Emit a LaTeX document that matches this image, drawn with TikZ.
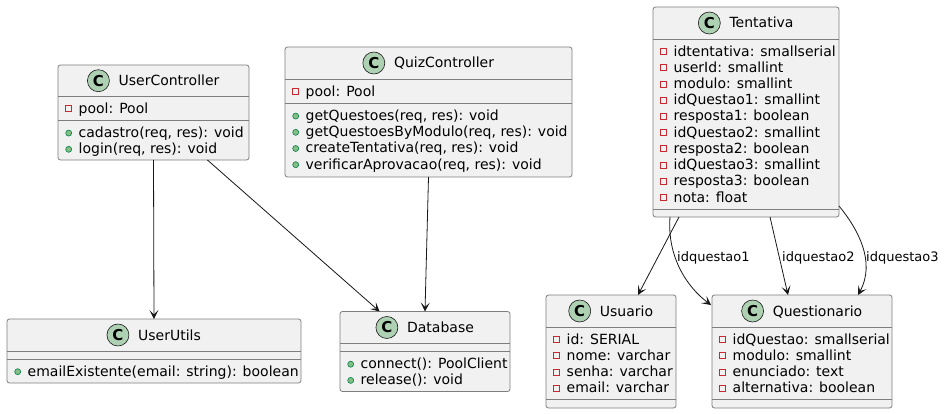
\documentclass[tikz,border=0pt]{standalone}
\usepackage{fontspec}
\setmainfont{DejaVu Sans}
\usetikzlibrary{arrows.meta,calc}
\definecolor{boxfill}{HTML}{F1F1F1}
\definecolor{umlborder}{HTML}{7E7E7E}
\definecolor{umlline}{HTML}{181818}
\definecolor{badge}{HTML}{ADD1B2}
\definecolor{privred}{HTML}{C82930}
\definecolor{pubfill}{HTML}{84BE84}
\definecolor{pubdraw}{HTML}{038048}
\tikzset{
 cls/.style={draw=umlborder, fill=boxfill, line width=0.8pt, rounded corners=2.5pt, inner sep=0pt, outer sep=0pt, anchor=north west},
 sepline/.style={draw=umlborder, line width=0.8pt},
 headtxt/.style={inner sep=0pt, font=\fontsize{14}{16.2}\selectfont, anchor=base},
 cbadge/.style={circle, draw=umlline, fill=badge, line width=0.6pt, minimum size=22pt, inner sep=0pt, font=\fontsize{15}{15}\selectfont\bfseries},
 rowtxt/.style={inner sep=0pt, font=\fontsize{14}{16.2}\selectfont, anchor=base west},
 privm/.style={rectangle, draw=privred, line width=0.8pt, minimum size=6pt, inner sep=0pt},
 pubm/.style={circle, draw=pubdraw, fill=pubfill, line width=0.6pt, minimum size=6pt, inner sep=0pt},
 rel/.style={draw=umlline, line width=0.8pt, -{Stealth[length=9pt,width=9pt,inset=4.5pt]}},
 lbl/.style={inner sep=0pt, font=\fontsize{13}{15}\selectfont, anchor=base west},
}
\newcommand\umlhead[4]{%
 \node[headtxt] (#1) at ({#2+15.5},{#3+5}) {#4};
 \node[cbadge] (#1c) at ([xshift=-20pt,yshift=5pt]#1.base west) {C};
}
\newcommand\umlrow[5]{%
 \node[#2] (#1m) at ({#3+10.7},{#4}) {};
 \node[rowtxt] (#1) at ({#3+20.5},{#4+4.5}) {#5};
}
\begin{document}
\begin{tikzpicture}[x=1pt,y=-1pt]
\path[use as bounding box, fill=white] (0,0) rectangle (944,414);

% UserController
\node[cls, minimum width=191pt, minimum height=95pt] (UC) at (58,65) {};
\draw[sepline] (58,96) -- (249,96);
\draw[sepline] (58,120.5) -- (249,120.5);
\umlhead{UCh}{153.5}{80.7}{UserController}
\umlrow{UCa}{privm}{58}{108.7}{pool: Pool}
\umlrow{UCb}{pubm}{58}{133.1}{cadastro(req, res): void}
\umlrow{UCc}{pubm}{58}{149.3}{login(req, res): void}

% QuizController
\node[cls, minimum width=287pt, minimum height=130pt] (QC) at (285,47) {};
\draw[sepline] (285,79) -- (572,79);
\draw[sepline] (285,103.4) -- (572,103.4);
\umlhead{QCh}{428.5}{63}{QuizController}
\umlrow{QCa}{privm}{285}{91.7}{pool: Pool}
\umlrow{QCb}{pubm}{285}{116.1}{getQuestoes(req, res): void}
\umlrow{QCc}{pubm}{285}{132.3}{getQuestoesByModulo(req, res): void}
\umlrow{QCd}{pubm}{285}{148.5}{createTentativa(req, res): void}
\umlrow{QCe}{pubm}{285}{164.7}{verificarAprovacao(req, res): void}

% Tentativa
\node[cls, minimum width=186pt, minimum height=210pt] (TE) at (653,7) {};
\draw[sepline] (653,39) -- (839,39);
\draw[sepline] (653,209.2) -- (839,209.2);
\umlhead{TEh}{746}{23}{Tentativa}
\umlrow{TEa}{privm}{653}{51.7}{idtentativa: smallserial}
\umlrow{TEb}{privm}{653}{67.9}{userId: smallint}
\umlrow{TEc}{privm}{653}{84.1}{modulo: smallint}
\umlrow{TEd}{privm}{653}{100.3}{idQuestao1: smallint}
\umlrow{TEe}{privm}{653}{116.5}{resposta1: boolean}
\umlrow{TEf}{privm}{653}{132.7}{idQuestao2: smallint}
\umlrow{TEg}{privm}{653}{148.9}{resposta2: boolean}
\umlrow{TEi}{privm}{653}{165.1}{idQuestao3: smallint}
\umlrow{TEj}{privm}{653}{181.3}{resposta3: boolean}
\umlrow{TEk}{privm}{653}{197.5}{nota: float}

% Usuario
\node[cls, minimum width=130pt, minimum height=113pt] (US) at (546,295) {};
\draw[sepline] (546,327) -- (676,327);
\draw[sepline] (546,399.8) -- (676,399.8);
\umlhead{USh}{611}{311}{Usuario}
\umlrow{USa}{privm}{546}{339.5}{id: SERIAL}
\umlrow{USb}{privm}{546}{355.7}{nome: varchar}
\umlrow{USc}{privm}{546}{371.9}{senha: varchar}
\umlrow{USd}{privm}{546}{388.1}{email: varchar}

% Questionario
\node[cls, minimum width=180pt, minimum height=113pt] (QU) at (712,295) {};
\draw[sepline] (712,327) -- (892,327);
\draw[sepline] (712,399.8) -- (892,399.8);
\umlhead{QUh}{802}{311}{Questionario}
\umlrow{QUa}{privm}{712}{339.5}{idQuestao: smallserial}
\umlrow{QUb}{privm}{712}{355.7}{modulo: smallint}
\umlrow{QUc}{privm}{712}{371.9}{enunciado: text}
\umlrow{QUd}{privm}{712}{388.1}{alternativa: boolean}

% UserUtils
\node[cls, minimum width=294pt, minimum height=64pt] (UU) at (7,319) {};
\draw[sepline] (7,351) -- (301,351);
\draw[sepline] (7,359) -- (301,359);
\umlhead{UUh}{154}{335}{UserUtils}
\umlrow{UUa}{pubm}{7}{371.7}{emailExistente(email: string): boolean}

% Database
\node[cls, minimum width=170pt, minimum height=80pt] (DB) at (340,311.5) {};
\draw[sepline] (340,343.5) -- (510,343.5);
\draw[sepline] (340,351.5) -- (510,351.5);
\umlhead{DBh}{425}{327.5}{Database}
\umlrow{DBa}{pubm}{340}{364.2}{connect(): PoolClient}
\umlrow{DBb}{pubm}{340}{380.4}{release(): void}

% relations
\draw[rel] (UC.south) -- (UU.north);
\draw[rel] (UC) -- (DB);
\draw[rel] (QC.south) -- (DB.north);
\draw[rel] ($(TE.south west)+(26,0)$) -- ($(US.north west)+(92,0)$);
\draw[rel] ($(TE.south west)+(17,0)$) .. controls ($(TE.south west)+(14,40)$) and ($(QU.north west)+(-25,-8)$) .. ($(QU.north west)+(-1,10)$);
\draw[rel] ($(TE.south west)+(117,0)$) -- ($(QU.north west)+(76,0)$);
\draw[rel] ($(TE.south east)+(0,-11)$) .. controls ($(TE.south east)+(19,12)$) and ($(QU.north east)+(-16,-33)$) .. ($(QU.north east)+(-34,0)$);

\node[lbl] (L1) at (677,261.5) {idquestao1};
\node[lbl] (L2) at (782,261.5) {idquestao2};
\node[lbl] (L3) at (866,261.5) {idquestao3};
\end{tikzpicture}
\end{document}
